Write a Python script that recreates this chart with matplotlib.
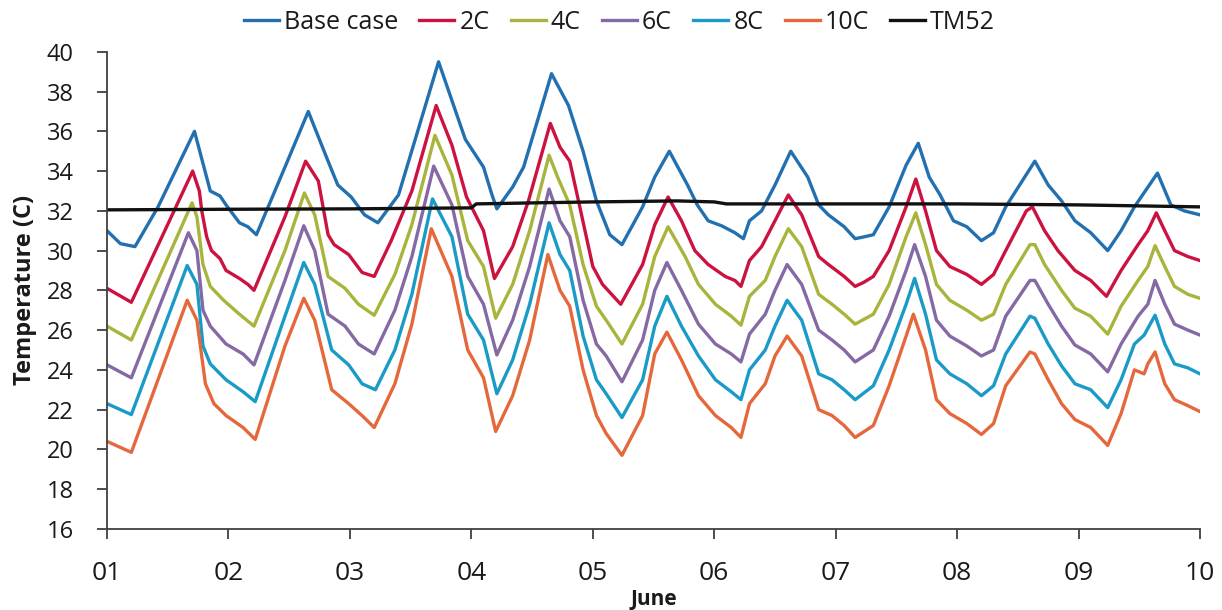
import matplotlib
matplotlib.use("Agg")
import matplotlib.pyplot as plt

plt.rcParams['font.family'] = ['Open Sans', 'DejaVu Sans']

day_labels = ['01', '02', '03', '04', '05', '06', '07', '08', '09', '10']
y_ticks = [16, 18, 20, 22, 24, 26, 28, 30, 32, 34, 36, 38, 40]

base_t = [0, 0.11, 0.23, 0.42, 0.72, 0.85, 0.93, 0.98, 1.09, 1.16, 1.23, 1.465, 1.657, 1.82, 1.90, 2.01, 2.12, 2.23, 2.40, 2.73, 2.95, 3.10, 3.17, 3.21, 3.34, 3.43, 3.66, 3.80, 3.92, 4.03, 4.14, 4.24, 4.41, 4.51, 4.63, 4.78, 4.86, 4.95, 5.06, 5.17, 5.24, 5.29, 5.39, 5.50, 5.63, 5.77, 5.86, 5.94, 6.07, 6.16, 6.24, 6.31, 6.44, 6.58, 6.68, 6.77, 6.86, 6.97, 7.08, 7.20, 7.30, 7.40, 7.64, 7.75, 7.86, 7.97, 8.10, 8.24, 8.35, 8.46, 8.65, 8.76, 8.87, 9.0]
base_v = [31.0, 30.35, 30.2, 32.2, 36.0, 33.0, 32.75, 32.3, 31.4, 31.2, 30.8, 34.2, 37.0, 34.5, 33.3, 32.7, 31.8, 31.4, 32.8, 39.5, 35.6, 34.2, 32.8, 32.1, 33.2, 34.2, 38.9, 37.3, 35.0, 32.5, 30.8, 30.3, 32.2, 33.7, 35.0, 33.3, 32.3, 31.5, 31.25, 30.9, 30.6, 31.5, 32.0, 33.3, 35.0, 33.7, 32.3, 31.8, 31.2, 30.6, 30.7, 30.8, 32.2, 34.3, 35.4, 33.7, 32.8, 31.5, 31.2, 30.5, 30.9, 32.2, 34.5, 33.3, 32.5, 31.5, 30.9, 30.0, 31.0, 32.2, 33.9, 32.3, 32.0, 31.8]

c2_t = [0, 0.20, 0.705, 0.76, 0.78, 0.82, 0.86, 0.93, 0.98, 1.09, 1.16, 1.21, 1.465, 1.635, 1.74, 1.82, 1.87, 1.99, 2.10, 2.20, 2.34, 2.51, 2.71, 2.84, 2.96, 3.10, 3.19, 3.34, 3.47, 3.65, 3.73, 3.81, 3.90, 4.00, 4.08, 4.23, 4.41, 4.51, 4.62, 4.73, 4.84, 4.95, 5.09, 5.17, 5.22, 5.29, 5.39, 5.50, 5.61, 5.72, 5.86, 5.94, 6.07, 6.16, 6.23, 6.31, 6.44, 6.58, 6.66, 6.74, 6.83, 6.94, 7.08, 7.20, 7.30, 7.40, 7.57, 7.62, 7.72, 7.83, 7.97, 8.10, 8.23, 8.35, 8.49, 8.57, 8.64, 8.71, 8.79, 8.90, 9.0]
c2_v = [28.1, 27.4, 34.0, 33.0, 32.0, 30.7, 30.0, 29.6, 29.0, 28.6, 28.3, 28.0, 31.7, 34.5, 33.5, 30.8, 30.3, 29.8, 28.9, 28.7, 30.5, 33.0, 37.3, 35.3, 32.7, 31.0, 28.6, 30.2, 32.5, 36.4, 35.2, 34.5, 32.0, 29.2, 28.3, 27.3, 29.3, 31.3, 32.7, 31.5, 30.0, 29.3, 28.7, 28.5, 28.2, 29.5, 30.2, 31.5, 32.8, 31.8, 29.7, 29.3, 28.7, 28.2, 28.4, 28.7, 30.0, 32.2, 33.6, 32.0, 30.0, 29.2, 28.8, 28.3, 28.8, 30.0, 32.0, 32.2, 31.0, 30.0, 29.0, 28.5, 27.7, 29.0, 30.3, 31.0, 31.9, 31.0, 30.0, 29.7, 29.5]

c4_t = [0, 0.20, 0.70, 0.74, 0.79, 0.85, 0.96, 1.09, 1.21, 1.465, 1.625, 1.71, 1.82, 1.96, 2.07, 2.20, 2.37, 2.51, 2.70, 2.84, 2.97, 3.10, 3.20, 3.34, 3.48, 3.64, 3.71, 3.81, 3.92, 4.03, 4.11, 4.24, 4.41, 4.51, 4.62, 4.76, 4.87, 5.01, 5.14, 5.22, 5.29, 5.42, 5.50, 5.61, 5.72, 5.86, 5.97, 6.07, 6.16, 6.31, 6.44, 6.58, 6.66, 6.74, 6.83, 6.94, 7.08, 7.20, 7.30, 7.40, 7.60, 7.64, 7.72, 7.86, 7.97, 8.10, 8.24, 8.35, 8.49, 8.57, 8.63, 8.71, 8.79, 8.90, 9.0]
c4_v = [26.2, 25.5, 32.4, 31.7, 29.3, 28.2, 27.5, 26.8, 26.2, 30.0, 32.9, 31.8, 28.7, 28.1, 27.3, 26.75, 28.8, 31.3, 35.8, 33.8, 30.5, 29.2, 26.6, 28.3, 31.0, 34.8, 33.7, 32.3, 29.3, 27.2, 26.5, 25.3, 27.3, 29.7, 31.2, 29.7, 28.3, 27.3, 26.7, 26.25, 27.7, 28.5, 29.7, 31.1, 30.2, 27.8, 27.3, 26.8, 26.3, 26.8, 28.3, 30.7, 31.9, 30.3, 28.3, 27.5, 27.0, 26.5, 26.8, 28.3, 30.3, 30.3, 29.3, 28.0, 27.1, 26.7, 25.8, 27.2, 28.5, 29.2, 30.25, 29.2, 28.2, 27.8, 27.6]

c6_t = [0, 0.20, 0.67, 0.74, 0.79, 0.85, 0.98, 1.12, 1.21, 1.465, 1.62, 1.71, 1.82, 1.96, 2.07, 2.20, 2.37, 2.51, 2.69, 2.84, 2.97, 3.10, 3.21, 3.34, 3.48, 3.64, 3.73, 3.81, 3.92, 4.03, 4.11, 4.24, 4.41, 4.51, 4.61, 4.73, 4.87, 5.01, 5.14, 5.22, 5.29, 5.42, 5.50, 5.60, 5.72, 5.86, 5.97, 6.07, 6.16, 6.31, 6.44, 6.58, 6.65, 6.74, 6.83, 6.94, 7.08, 7.20, 7.30, 7.40, 7.60, 7.64, 7.75, 7.86, 7.97, 8.10, 8.24, 8.35, 8.49, 8.57, 8.63, 8.71, 8.79, 8.90, 9.0]
c6_v = [24.25, 23.6, 30.9, 30.0, 27.0, 26.2, 25.3, 24.8, 24.25, 28.5, 31.25, 30.0, 26.8, 26.2, 25.3, 24.8, 27.0, 29.7, 34.25, 32.3, 28.7, 27.3, 24.75, 26.5, 29.2, 33.1, 31.5, 30.7, 27.5, 25.3, 24.7, 23.4, 25.5, 28.0, 29.4, 28.0, 26.3, 25.3, 24.8, 24.4, 25.8, 26.8, 28.0, 29.3, 28.3, 26.0, 25.5, 25.0, 24.4, 25.0, 26.7, 29.0, 30.3, 28.7, 26.5, 25.7, 25.2, 24.7, 25.0, 26.7, 28.5, 28.5, 27.3, 26.2, 25.25, 24.8, 23.9, 25.3, 26.7, 27.3, 28.5, 27.3, 26.3, 26.0, 25.75]

c8_t = [0, 0.20, 0.66, 0.74, 0.79, 0.85, 0.98, 1.12, 1.22, 1.465, 1.62, 1.71, 1.85, 1.99, 2.10, 2.21, 2.37, 2.51, 2.68, 2.84, 2.97, 3.10, 3.21, 3.34, 3.48, 3.64, 3.73, 3.81, 3.92, 4.03, 4.11, 4.24, 4.41, 4.51, 4.61, 4.73, 4.87, 5.01, 5.14, 5.22, 5.29, 5.42, 5.50, 5.60, 5.72, 5.86, 5.97, 6.07, 6.16, 6.31, 6.44, 6.58, 6.65, 6.74, 6.83, 6.94, 7.08, 7.20, 7.30, 7.40, 7.60, 7.64, 7.75, 7.86, 7.97, 8.10, 8.24, 8.35, 8.46, 8.54, 8.63, 8.71, 8.79, 8.90, 9.0]
c8_v = [22.3, 21.75, 29.25, 28.3, 25.2, 24.3, 23.5, 22.9, 22.4, 26.7, 29.4, 28.3, 25.0, 24.25, 23.3, 23.0, 25.0, 27.8, 32.6, 30.7, 26.8, 25.5, 22.8, 24.5, 27.3, 31.4, 29.8, 29.0, 25.7, 23.5, 22.8, 21.6, 23.5, 26.2, 27.7, 26.2, 24.7, 23.5, 22.9, 22.5, 24.0, 25.0, 26.2, 27.5, 26.5, 23.8, 23.5, 23.0, 22.5, 23.2, 25.0, 27.3, 28.6, 26.8, 24.5, 23.8, 23.3, 22.7, 23.2, 24.8, 26.7, 26.6, 25.3, 24.2, 23.3, 23.0, 22.1, 23.5, 25.3, 25.75, 26.75, 25.3, 24.3, 24.1, 23.8]

c10_t = [0, 0.20, 0.66, 0.74, 0.81, 0.88, 0.98, 1.12, 1.22, 1.465, 1.62, 1.71, 1.85, 1.99, 2.10, 2.20, 2.37, 2.51, 2.67, 2.84, 2.97, 3.10, 3.20, 3.34, 3.48, 3.63, 3.73, 3.81, 3.92, 4.03, 4.11, 4.24, 4.41, 4.51, 4.61, 4.73, 4.87, 5.01, 5.14, 5.22, 5.29, 5.42, 5.50, 5.60, 5.72, 5.86, 5.97, 6.07, 6.16, 6.31, 6.44, 6.58, 6.64, 6.74, 6.83, 6.94, 7.08, 7.20, 7.30, 7.40, 7.60, 7.64, 7.75, 7.86, 7.97, 8.10, 8.24, 8.35, 8.46, 8.54, 8.57, 8.63, 8.71, 8.79, 8.90, 9.0]
c10_v = [20.4, 19.85, 27.5, 26.5, 23.3, 22.3, 21.7, 21.1, 20.5, 25.2, 27.6, 26.5, 23.0, 22.3, 21.7, 21.1, 23.3, 26.3, 31.1, 28.7, 25.0, 23.6, 20.9, 22.7, 25.5, 29.8, 28.0, 27.2, 24.0, 21.7, 20.8, 19.7, 21.7, 24.8, 25.9, 24.5, 22.7, 21.7, 21.1, 20.6, 22.3, 23.3, 24.7, 25.7, 24.7, 22.0, 21.7, 21.2, 20.6, 21.2, 23.2, 25.7, 26.8, 25.0, 22.5, 21.8, 21.3, 20.75, 21.3, 23.2, 24.9, 24.8, 23.5, 22.3, 21.5, 21.1, 20.2, 21.8, 24.0, 23.8, 24.3, 24.9, 23.3, 22.5, 22.2, 21.9]

tm52_t = [0, 1.0, 2.0, 3.0, 3.04, 3.5, 4.0, 4.7, 5.0, 5.1, 6.0, 7.0, 8.0, 9.0]
tm52_v = [32.05, 32.08, 32.1, 32.15, 32.35, 32.4, 32.45, 32.5, 32.45, 32.35, 32.35, 32.35, 32.3, 32.2]

series = [
    ('Base case', base_t, base_v, '#2270b0'),
    ('2C', c2_t, c2_v, '#cc1240'),
    ('4C', c4_t, c4_v, '#a9b43c'),
    ('6C', c6_t, c6_v, '#8469a4'),
    ('8C', c8_t, c8_v, '#1a9ac6'),
    ('10C', c10_t, c10_v, '#e5683c'),
    ('TM52', tm52_t, tm52_v, '#111111'),
]

fig = plt.figure(figsize=(12.22, 6.10), dpi=100)
ax = fig.add_axes([0.0876, 0.133, 0.8944, 0.782])

for name, t, v, col in series:
    ax.plot(t, v, color=col, lw=2.4, label=name, solid_joinstyle='round')

ax.set_xlim(0, 9)
ax.set_ylim(16, 40)
ax.set_xticks(range(len(day_labels)))
ax.set_xticklabels(day_labels)
ax.set_yticks(y_ticks)

for s in ['top', 'right']:
    ax.spines[s].set_visible(False)
for s in ['left', 'bottom']:
    ax.spines[s].set_color('#404040')
    ax.spines[s].set_linewidth(1.3)

ax.tick_params(axis='y', direction='out', length=7, width=1.3, color='#404040',
               labelsize=17, labelcolor='#1a1a1a', pad=17)
ax.tick_params(axis='x', direction='out', length=7, width=1.3, color='#404040',
               labelsize=19, labelcolor='#1a1a1a', pad=16)

ax.set_ylabel('Temperature (C)', fontsize=17, fontweight='bold', color='#1a1a1a', labelpad=7)
ax.set_xlabel('June', fontsize=15, fontweight='bold', color='#1a1a1a', labelpad=2)

leg = fig.legend(loc='center', bbox_to_anchor=(0.507, 0.963), ncol=7, frameon=False,
                 fontsize=18, handlelength=1.4, handletextpad=0.2, columnspacing=0.85)
for txt in leg.get_texts():
    txt.set_color('#1a1a1a')

fig.savefig('out.png', dpi=100)
